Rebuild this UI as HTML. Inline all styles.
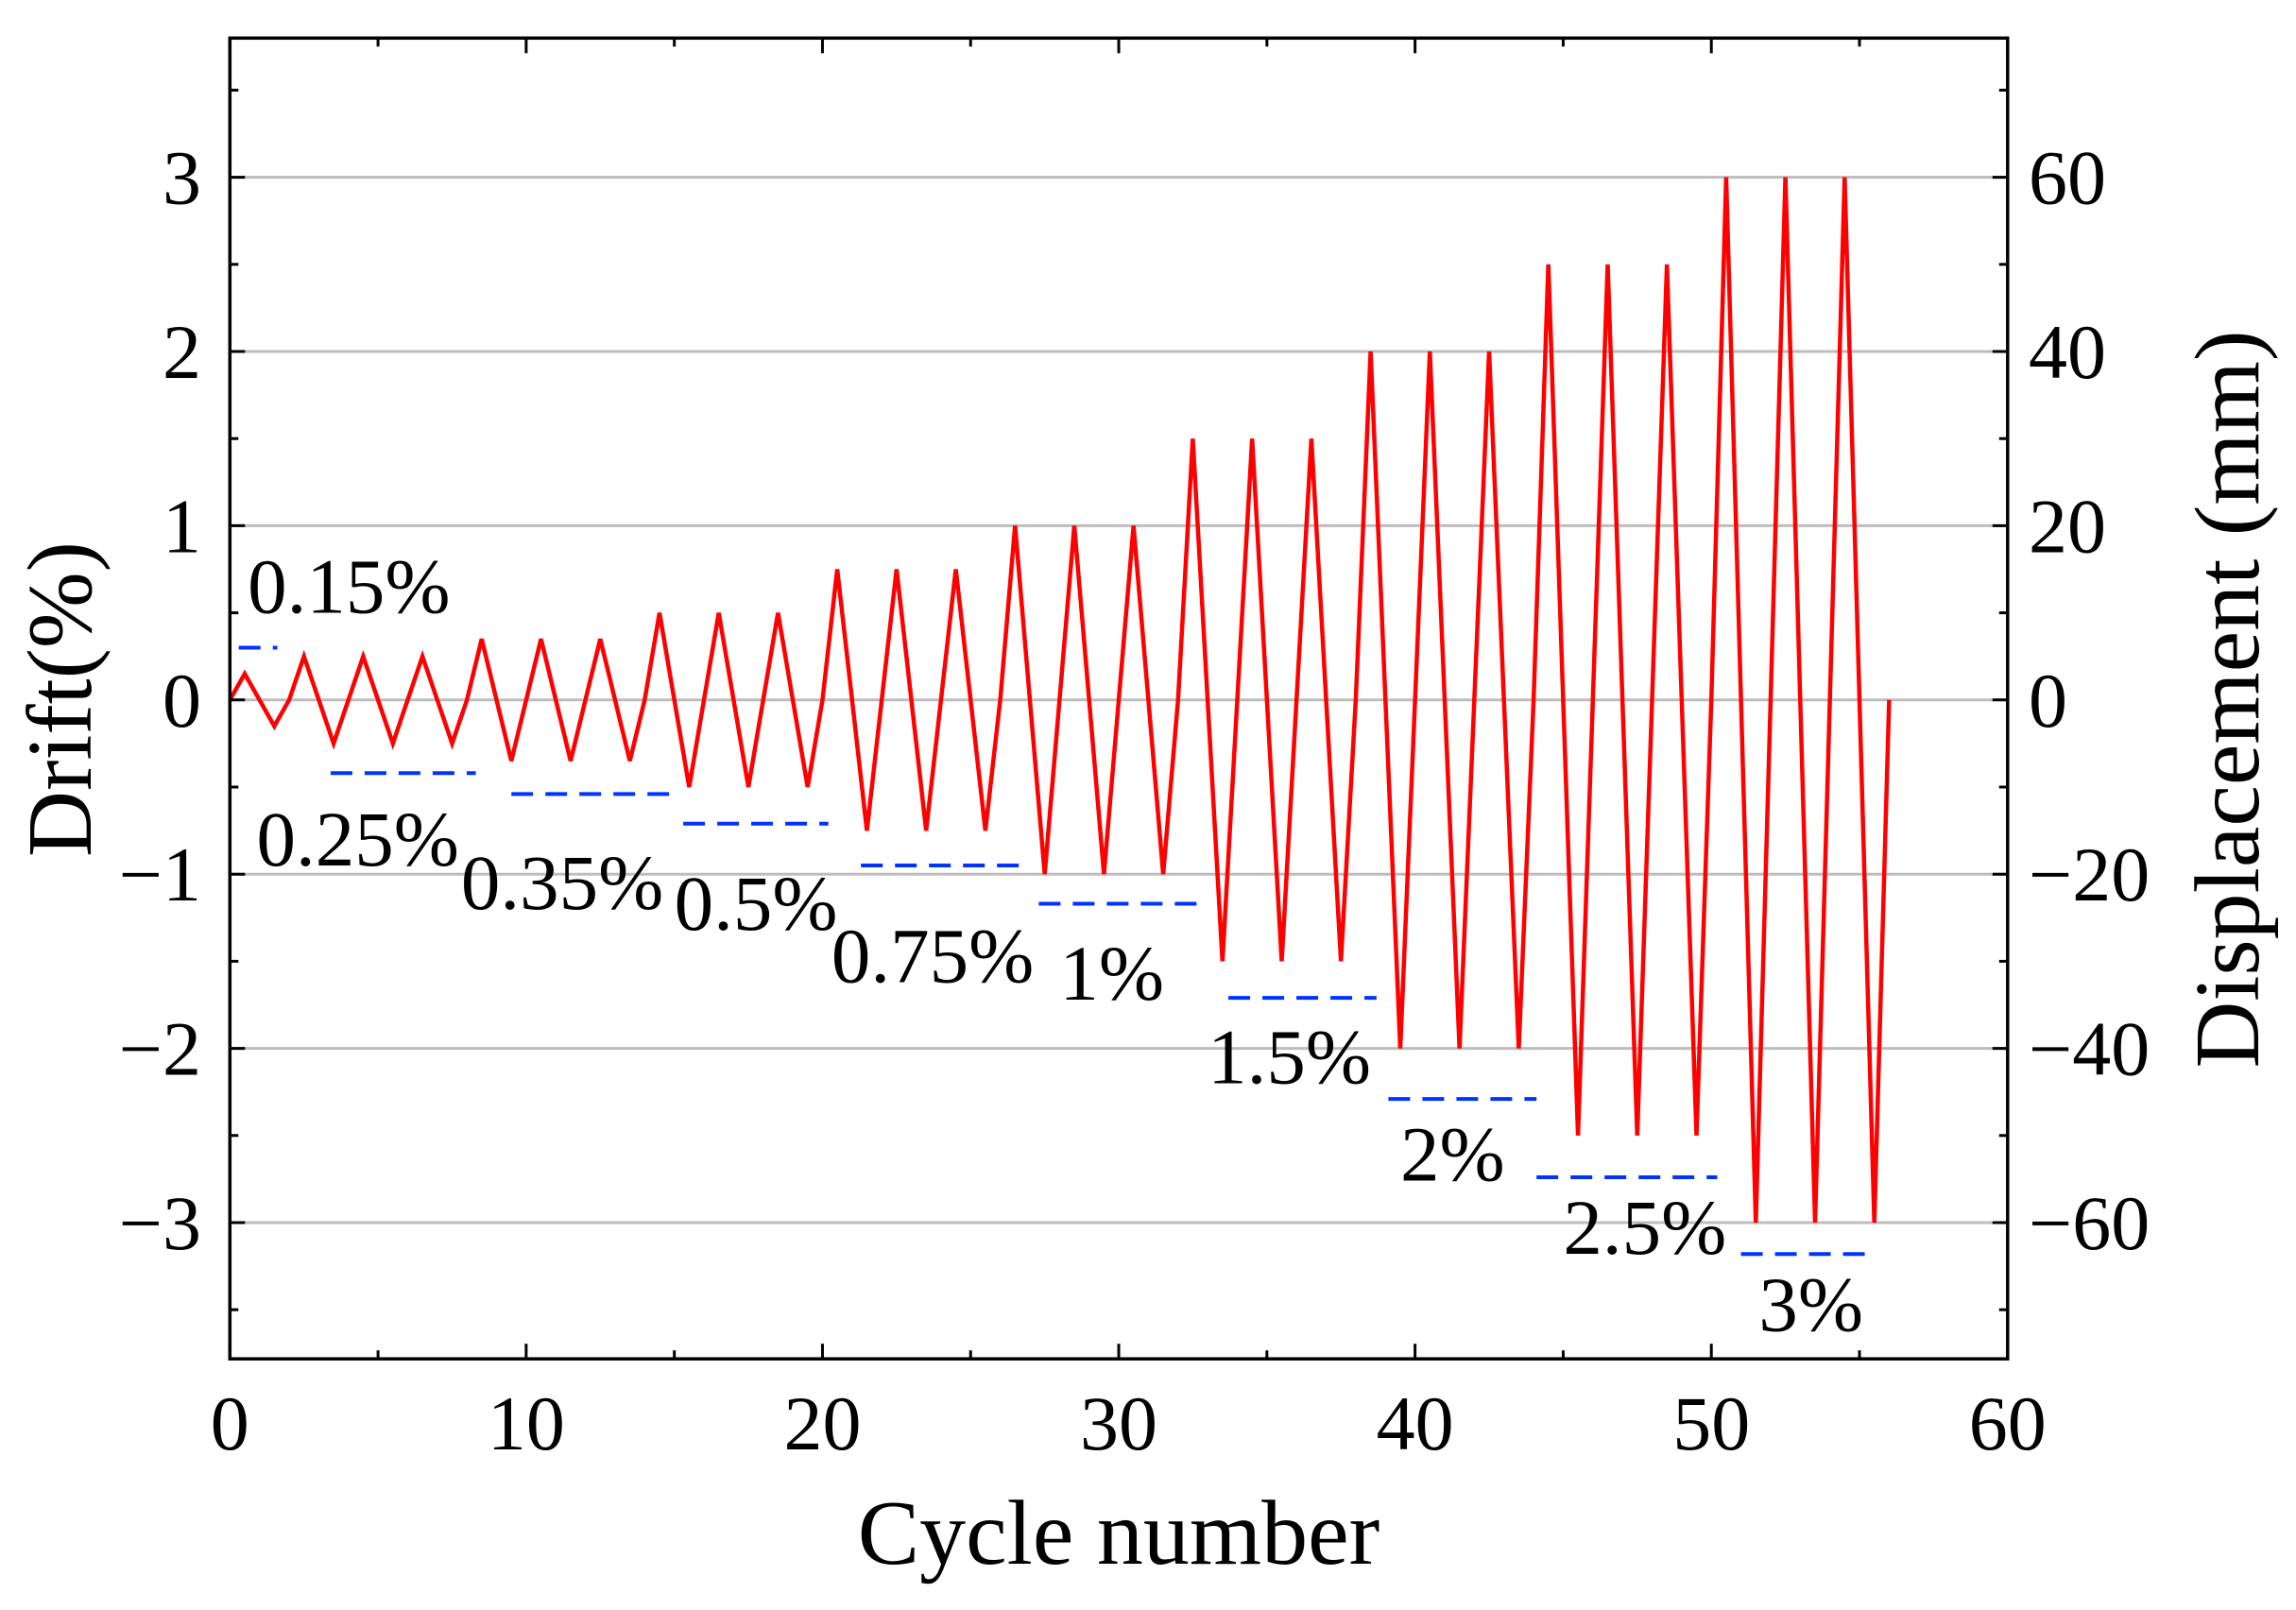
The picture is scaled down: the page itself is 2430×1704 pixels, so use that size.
<!DOCTYPE html>
<html><head><meta charset="utf-8"><style>
html,body{margin:0;padding:0;background:#fff}
svg text{font-family:"Liberation Serif",serif;fill:#000}
</style></head><body>
<svg id="chart" width="2430" height="1699" viewBox="0 0 2430 1699" xmlns="http://www.w3.org/2000/svg"></svg>
<script>
const levels = [0.15,0.25,0.35,0.5,0.75,1,1.5,2,2.5,3];
const cyclesPerLevel = [1,3,3,3,3,3,3,3,3,3];
const xTicks = [0,10,20,30,40,50,60];
const yTicks = [-3,-2,-1,0,1,2,3];
const dispTicks = [-60,-40,-20,0,20,40,60];
const annoLabels = ["0.15%","0.25%","0.35%","0.5%","0.75%","1%","1.5%","2%","2.5%","3%"];
const annoDash = [[0.3,1.6,0.3],[3.4,8.3,-0.42],[9.5,15.1,-0.54],[15.3,20.2,-0.71],[21.3,26.8,-0.95],[27.3,32.9,-1.17],[33.7,38.7,-1.71],[39.1,44.1,-2.29],[44.1,50.2,-2.74],[51,55.5,-3.18]];
const annoPos = [[0.6,0.5],[0.9,-0.95],[7.8,-1.2],[15,-1.32],[20.3,-1.62],[28,-1.72],[33,-2.2],[39.5,-2.76],[45,-3.18],[51.6,-3.62]];

const L=243.3,R=2124.8,T=40.3,B=1438.2;
const xS=v=>L+(v-0)/60*(R-L);
const y0=740.8, ppu=184.4;
const yS=v=>y0-v*ppu;
const svg=document.getElementById('chart');
const NS='http://www.w3.org/2000/svg';
function mk(tag,attrs,parent){const e=document.createElementNS(NS,tag);for(const k in attrs)e.setAttribute(k,attrs[k]);(parent||svg).appendChild(e);return e;}

yTicks.forEach(v=>{
  const g=mk('line',{x1:L,x2:R,y1:yS(v),y2:yS(v),stroke:'#bdbdbd','stroke-width':3});
  
  
});

const px=[0],py=[0];
let x=0;
levels.forEach((a,i)=>{
  for(let c=0;c<cyclesPerLevel[i];c++){
    px.push(x+0.5);py.push(a);
    px.push(x+1.5);py.push(-a);
    x+=2;
  }
  px.push(x);py.push(0);
});
const pts=px.map((v,i)=>xS(v).toFixed(1)+','+yS(py[i]).toFixed(1)).join(' ');
const line=mk('polyline',{points:pts,fill:'none',stroke:'#ff0000','stroke-width':4.5,'stroke-linejoin':'miter'});



annoDash.forEach((d,i)=>{
  const l=mk('line',{x1:xS(d[0]),x2:xS(d[1]),y1:yS(d[2]),y2:yS(d[2]),stroke:'#0033ff','stroke-width':4,'stroke-dasharray':'23 13'});
  
  
  const t=mk('text',{x:xS(annoPos[i][0]),y:yS(annoPos[i][1]),'font-size':83});
  t.textContent=annoLabels[i];
  
  
});

const fr=mk('rect',{x:L,y:T,width:R-L,height:B-T,fill:'none',stroke:'#000','stroke-width':3.5});



for(let v=0;v<=60;v+=5){
  const len=(v%10===0)?16:9;
  mk('line',{x1:xS(v),x2:xS(v),y1:B,y2:B-len,stroke:'#000','stroke-width':3});
  mk('line',{x1:xS(v),x2:xS(v),y1:T,y2:T+len,stroke:'#000','stroke-width':3});
}
xTicks.forEach(v=>{
  const t=mk('text',{x:xS(v),y:1534,'font-size':82,'text-anchor':'middle'});
  t.textContent=v;
  
  
});
for(let v=-3.5;v<=3.51;v+=0.5){
  const len=(Math.abs(v%1)<1e-6)?16:9;
  mk('line',{x1:L,x2:L+len,y1:yS(v),y2:yS(v),stroke:'#000','stroke-width':3});
  mk('line',{x1:R,x2:R-len,y1:yS(v),y2:yS(v),stroke:'#000','stroke-width':3});
}
yTicks.forEach(v=>{
  const t=mk('text',{x:213,y:yS(v)+28,'font-size':82,'text-anchor':'end'});
  t.textContent=(v<0?'\u2212'+(-v):v);
  
  
});
dispTicks.forEach(v=>{
  const t=mk('text',{x:2147,y:yS(v/20)+28,'font-size':82,'text-anchor':'start'});
  t.textContent=(v<0?'\u2212'+(-v):v);
  
  
});

const xt=mk('text',{x:1184,y:1655,'font-size':98,'text-anchor':'middle'});
xt.textContent='Cycle number';


const yt=mk('text',{x:0,y:0,'font-size':97,'text-anchor':'middle',transform:'translate(96,740) rotate(-90)'});
yt.textContent='Drift(%)';


const rt=mk('text',{x:0,y:0,'font-size':98,'text-anchor':'middle',transform:'translate(2390,740) rotate(-90)'});
rt.textContent='Displacement (mm)';


</script>
</body></html>
